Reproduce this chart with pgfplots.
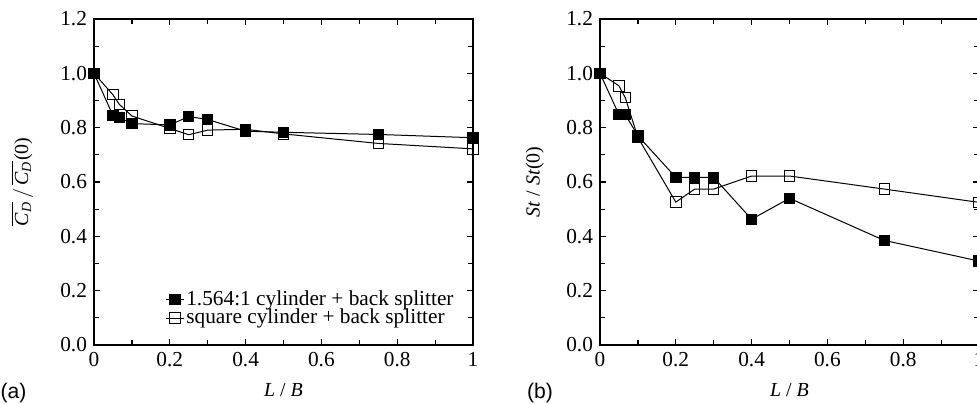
\documentclass[border=0pt]{standalone}
\usepackage{fontspec}
\setmainfont{Liberation Serif}
\setsansfont{Liberation Sans}
\usepackage{amsmath}
\usepackage{pgfplots}
\pgfplotsset{compat=1.18}
\pgfplotsset{
 myax/.style={
  scale only axis, width=189.5bp, height=163bp,
  xmin=0,xmax=1,ymin=0,ymax=1.2,
  xtick={0,0.2,0.4,0.6,0.8,1}, minor x tick num=1,
  ytick={0,0.2,0.4,0.6,0.8,1.0,1.2}, minor y tick num=1,
  yticklabel style={/pgf/number format/.cd,fixed,fixed zerofill,precision=1},
  /pgf/number format/assume math mode=true,
  tick align=inside,
  major tick length=3bp, minor tick length=2.5bp,
  axis line style={line width=0.8bp},
  every tick/.style={black, line width=0.6bp},
  tick label style={font=\fontsize{10.7}{12}\selectfont},
  label style={font=\fontsize{10.7}{12}\selectfont},
  clip=false,
  xlabel={\textit{L} / \textit{B}},
  every axis x label/.style={at={(axis description cs:0.5,-0.138)}, anchor=center},
 },
 openS/.style={black, line width=0.5bp, mark=square, mark size=2.6bp, mark options={fill=white, solid}},
 fillS/.style={black, line width=0.5bp, mark=square*, mark size=2.6bp, mark options={fill=black, solid}},
}
\begin{document}
\begin{tikzpicture}
\begin{axis}[myax, at={(47bp,29.5bp)}, anchor=south west,
  ylabel={$\overline{\textit{C}_{\textit{D}}}\,/\,\overline{\textit{C}_{\textit{D}}}\textup{(0)}$},
  every axis y label/.style={at={(axis description cs:-0.19,0.5)}, rotate=90, anchor=center},
  reverse legend,
  legend cell align=left,
  legend style={draw=none, fill=none, at={(0.955,0.048)}, anchor=south east,
    font=\fontsize{10.7}{11}\selectfont, row sep=-1.5bp, inner sep=0pt,
    nodes={inner sep=1bp}},
  legend image code/.code={\draw[mark repeat=2,mark phase=2] plot coordinates {(0bp,0bp)(4.5bp,0bp)(9bp,0bp)};},
]
\addplot[openS] coordinates {(0,1.0)(0.05,0.921)(0.0667,0.886)(0.1,0.843)(0.2,0.797)(0.25,0.774)(0.3,0.791)(0.4,0.794)(0.5,0.777)(0.75,0.742)(1,0.722)};
\addlegendentry{square cylinder + back splitter}
\addplot[fillS] coordinates {(0,1.0)(0.05,0.845)(0.0667,0.837)(0.1,0.815)(0.2,0.81)(0.25,0.841)(0.3,0.83)(0.4,0.787)(0.5,0.783)(0.75,0.775)(1,0.763)};
\addlegendentry{1.564:1 cylinder + back splitter}
\end{axis}
\begin{axis}[myax, at={(300bp,29.5bp)}, anchor=south west,
  ylabel={\textit{St} / \textit{St}(0)},
  every axis y label/.style={at={(axis description cs:-0.172,0.5)}, rotate=90, anchor=center},
]
\addplot[openS] coordinates {(0,1.0)(0.05,0.954)(0.0667,0.91)(0.1,0.764)(0.2,0.526)(0.25,0.574)(0.3,0.574)(0.4,0.622)(0.5,0.622)(0.75,0.574)(1,0.525)};
\addplot[fillS] coordinates {(0,1.0)(0.05,0.848)(0.0667,0.848)(0.1,0.77)(0.2,0.617)(0.25,0.617)(0.3,0.617)(0.4,0.463)(0.5,0.54)(0.75,0.385)(1,0.309)};
\end{axis}
\node[font=\sffamily\fontsize{10.6}{12}\selectfont, inner sep=0pt] at (6.8bp,5.5bp) {(a)};
\node[font=\sffamily\fontsize{10.6}{12}\selectfont, inner sep=0pt] at (270bp,5.5bp) {(b)};
\pgfresetboundingbox
\path (0,0) rectangle (488.5bp,202bp);
\end{tikzpicture}
\end{document}
